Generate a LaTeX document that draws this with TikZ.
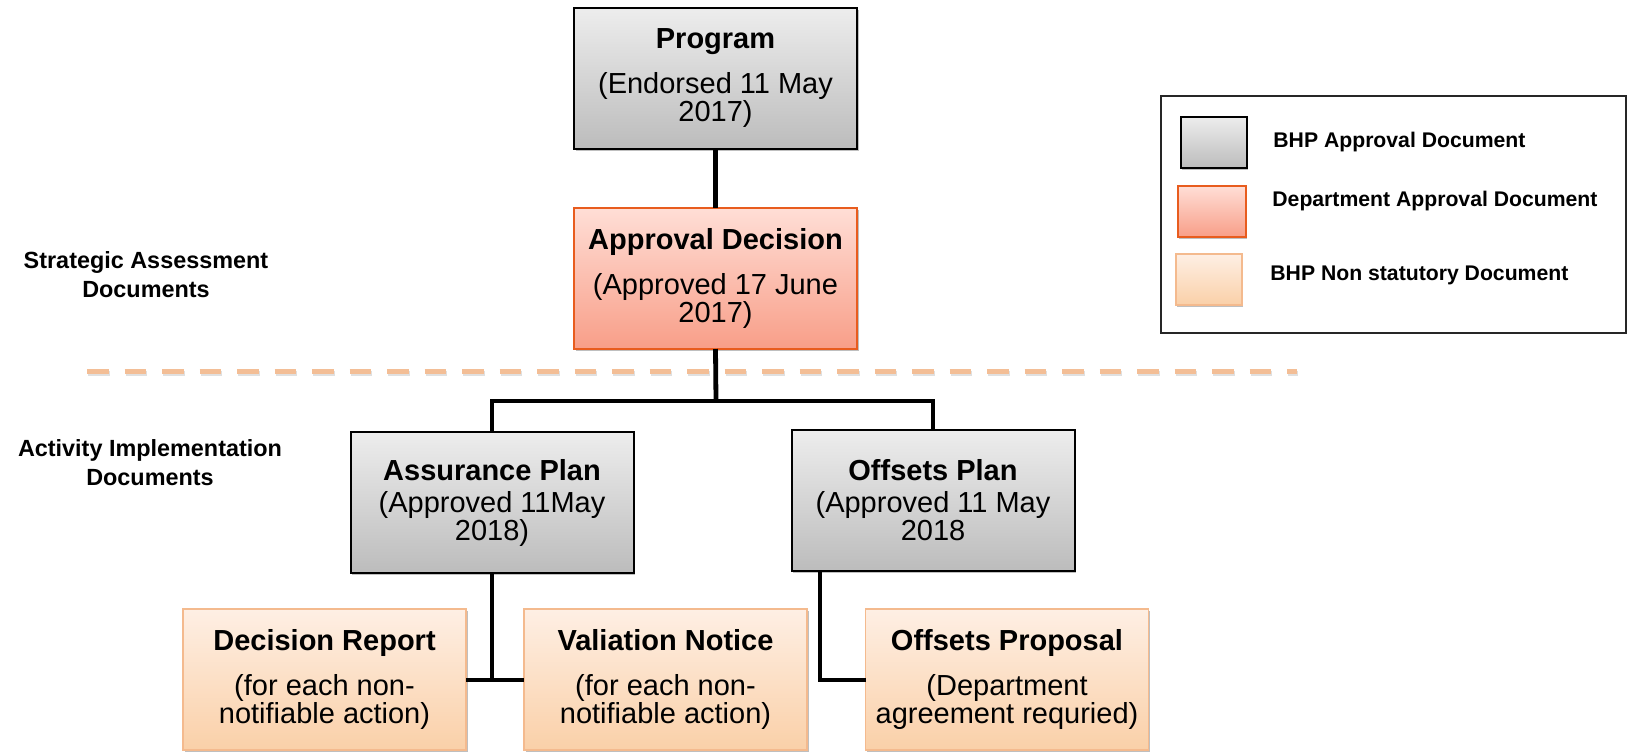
\documentclass[tikz,border=0pt]{standalone}
\usepackage{fontspec}
\setmainfont{Liberation Sans}
\usetikzlibrary{shadows,calc}
\definecolor{gtop}{RGB}{237,237,237}
\definecolor{gbot}{RGB}{188,188,188}
\definecolor{rtop}{RGB}{255,222,214}
\definecolor{rbot}{RGB}{248,158,136}
\definecolor{rborder}{RGB}{232,92,30}
\definecolor{ptop}{RGB}{254,239,228}
\definecolor{pbot}{RGB}{250,208,168}
\definecolor{pborder}{RGB}{244,186,142}
\definecolor{dashcol}{RGB}{243,190,150}
\tikzset{
  boxbase/.style={rectangle, minimum width=141.5pt, minimum height=70.5pt, inner sep=0pt, outer sep=0pt,
    align=center, font=\fontsize{14.5}{14}\selectfont,
    drop shadow={shadow xshift=0.8pt, shadow yshift=-1.2pt, opacity=0.25, fill=black}},
  graybox/.style={boxbase, draw=black, line width=1pt, top color=gtop, bottom color=gbot},
  redbox/.style={boxbase, draw=rborder, line width=0.8pt, top color=rtop, bottom color=rbot},
  peachbox/.style={boxbase, draw=pborder, line width=0.8pt, top color=ptop, bottom color=pbot},
  conn/.style={line width=2pt, black, line join=miter},
  vconn/.style={conn, line width=2.4pt},
  swatch/.style={rectangle, minimum width=33pt, minimum height=25.5pt, inner sep=0pt,
    drop shadow={shadow xshift=0.6pt, shadow yshift=-1pt, opacity=0.25, fill=black}},
  legtext/.style={anchor=west, inner sep=0pt, font=\fontsize{10.6}{12}\selectfont\bfseries},
  sidelabel/.style={align=center, inner sep=0pt, font=\fontsize{11.7}{14.5}\selectfont\bfseries},
}
\begin{document}
\begin{tikzpicture}[x=0.5pt, y=-0.5pt]
\useasboundingbox (0,0) rectangle (1633,752);
% dashed separator
\draw[line width=2.5pt, black!35, opacity=0.35, dash pattern=on 10.85pt off 7.9pt] (88,373) -- (1298,373);
\draw[line width=2.5pt, dashcol, dash pattern=on 10.85pt off 7.9pt] (87,371) -- (1297,371);

% side labels
\node[sidelabel] (sa) at (146,274.5) {Strategic Assessment\\Documents};
\node[sidelabel] (ai) at (150,462.5) {Activity Implementation\\Documents};

% boxes
\node[graybox] (prog) at (715.5,78.5) {{\bfseries Program}\\[8.5pt](Endorsed 11 May\\2017)};
\node[redbox] (appr) at (715.5,278.5) {{\bfseries Approval Decision}\\[8.5pt](Approved 17 June\\2017)};
\node[graybox] (assur) at (492,502.5) {{\bfseries Assurance Plan}\\[2pt](Approved 11May\\2018)};
\node[graybox] (offp) at (933,500.5) {{\bfseries Offsets Plan}\\[2pt](Approved 11 May\\2018};
\node[peachbox] (dec) at (324.5,679.5) {{\bfseries Decision Report}\\[8.5pt](for each non-\\notifiable action)};
\node[peachbox] (val) at (665.5,679.5) {{\bfseries Valiation Notice}\\[8.5pt](for each non-\\notifiable action)};
\node[peachbox] (oprop) at (1007,679.5) {{\bfseries Offsets Proposal}\\[8.5pt](Department\\agreement requried)};

% connectors
\coordinate (j1) at (716,401);
\draw[vconn] (prog.south) -- (appr.north);
\draw[vconn] (appr.south) -- (j1);
\draw[conn] (assur.north) |- (j1) -| (offp.north);
\coordinate (j2) at (assur.south |- dec.east);
\draw[vconn] (assur.south) -- (j2);
\draw[conn] (dec.east) -- (val.west);
\coordinate (k3) at ($(offp.south west)+(28,0)$);
\draw[conn] (k3) |- (oprop.west);

% legend
\node[draw=black!85, line width=0.9pt, rectangle, minimum width=232.5pt, minimum height=118.5pt, inner sep=0pt] (legend) at (1393.5,214.5) {};
\node[swatch, draw=black, line width=1pt, top color=gtop, bottom color=gbot] (lg1) at (1214,142.5) {};
\node[swatch, draw=rborder, line width=0.8pt, top color=rtop, bottom color=rbot, minimum width=34pt] (lg2) at (1212,211.5) {};
\node[swatch, draw=pborder, line width=0.8pt, top color=ptop, bottom color=pbot] (lg3) at (1209,279.5) {};
\node[legtext] (lt1) at (1273,142) {BHP Approval Document};
\node[legtext] (lt2) at (1272,201) {Department Approval Document};
\node[legtext] (lt3) at (1270,275) {BHP Non statutory Document};
\end{tikzpicture}
\end{document}
